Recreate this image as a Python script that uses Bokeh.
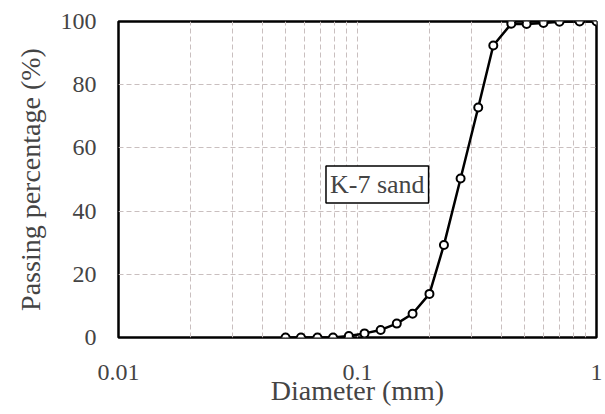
from bokeh.plotting import figure
from bokeh.models import FixedTicker, Label, ColumnDataSource
from bokeh.embed import file_html
from bokeh.resources import INLINE

# Grain size distribution of K-7 sand
diameter_mm = [0.05, 0.058, 0.068, 0.079, 0.092, 0.107, 0.125, 0.146, 0.17, 0.2,
               0.23, 0.27, 0.32, 0.37, 0.44, 0.51, 0.6, 0.7, 0.85, 1.0]
passing_pct = [0.0, 0.0, 0.0, 0.0, 0.5, 1.3, 2.4, 4.4, 7.5, 13.8,
               29.3, 50.3, 72.8, 92.4, 99.3, 99.2, 99.5, 99.9, 100.0, 100.0]

x_ticks = [0.01, 0.1, 1]
x_tick_labels = ["0.01", "0.1", "1"]
x_grid = [0.02, 0.03, 0.04, 0.05, 0.06, 0.07, 0.08, 0.09, 0.1,
          0.2, 0.3, 0.4, 0.5, 0.6, 0.7, 0.8, 0.9]
y_ticks = [0, 20, 40, 60, 80, 100]
y_grid = [20, 40, 60, 80]

p = figure(width=605, height=414, x_axis_type="log",
           x_range=(0.01, 1), y_range=(0, 100),
           output_backend="svg", toolbar_location=None,
           min_border_left=118, min_border_right=9,
           min_border_top=21, min_border_bottom=77)

p.outline_line_color = "black"
p.outline_line_width = 2.5

p.xaxis.ticker = FixedTicker(ticks=x_ticks)
p.xaxis.major_label_overrides = {t: s for t, s in zip(x_ticks, x_tick_labels)}
p.yaxis.ticker = FixedTicker(ticks=y_ticks)

p.xaxis.axis_line_color = None
p.yaxis.axis_line_color = None
p.xaxis.major_tick_line_color = None
p.yaxis.major_tick_line_color = None
p.xaxis.minor_tick_line_color = None
p.yaxis.minor_tick_line_color = None
p.xaxis.major_tick_out = 0
p.yaxis.major_tick_out = 0

p.xaxis.major_label_text_font = "Liberation Serif"
p.xaxis.major_label_text_font_size = "24px"
p.yaxis.major_label_text_font = "Liberation Serif"
p.yaxis.major_label_text_font_size = "24px"

p.xaxis.axis_label = "Diameter (mm)"
p.xaxis.axis_label_text_font = "Liberation Serif"
p.xaxis.axis_label_text_font_size = "28px"
p.xaxis.axis_label_text_font_style = "normal"
p.yaxis.axis_label = "Passing percentage (%)"
p.yaxis.axis_label_text_font = "Liberation Serif"
p.yaxis.axis_label_text_font_size = "28px"
p.yaxis.axis_label_text_font_style = "normal"

p.xaxis.major_label_standoff = 27
p.xaxis.axis_label_standoff = -8
p.yaxis.major_label_standoff = 22
p.yaxis.axis_label_standoff = 12

p.xgrid.ticker = FixedTicker(ticks=x_grid)
p.ygrid.ticker = FixedTicker(ticks=y_grid)
p.xgrid.grid_line_color = "#c9bfbf"
p.ygrid.grid_line_color = "#c9bfbf"
p.xgrid.grid_line_dash = "5 3"
p.ygrid.grid_line_dash = "5 3"

src = ColumnDataSource(data=dict(d=diameter_mm, pp=passing_pct))
p.line("d", "pp", source=src, line_color="black", line_width=2.5)
# open circular markers, radius given in screen pixels
p.circle("d", "pp", source=src, radius=4, radius_units="screen",
         fill_color="white", line_color="black", line_width=2)

p.add_layout(Label(x=0.121, y=48.4, text="K-7 sand",
                   text_font="Liberation Serif", text_font_size="26px",
                   text_align="center", text_baseline="middle",
                   border_line_color="black", border_line_width=1.5,
                   background_fill_color="white", padding=4))

open("out.html", "w").write(file_html(p, INLINE))
